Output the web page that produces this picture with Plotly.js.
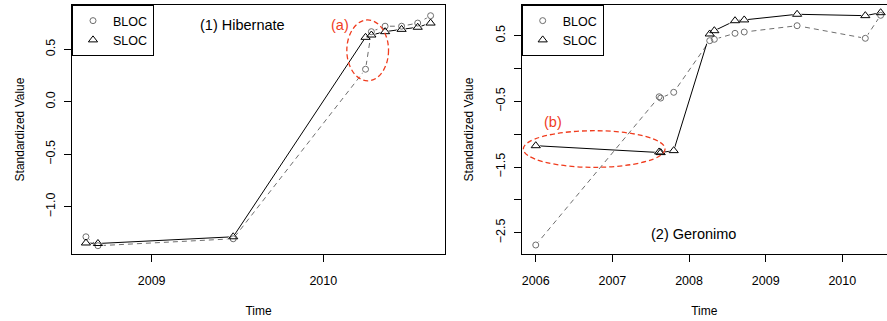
<!DOCTYPE html>
<html>
<head>
<meta charset="utf-8">
<script src="https://cdn.plot.ly/plotly-3.0.1.min.js"></script>
<style>html,body{margin:0;padding:0;background:#fff;}#chart{width:887px;height:321px;}</style>
</head>
<body>
<div id="chart"></div>
<script>
// (1) Hibernate
const hibTime = [2008.617, 2008.687, 2009.475, 2010.246, 2010.28, 2010.36, 2010.456, 2010.55, 2010.625];
const hibBLOC = [-1.286, -1.371, -1.305, 0.31, 0.668, 0.72, 0.72, 0.75, 0.82];
const hibSLOC = [-1.345, -1.35, -1.286, 0.614, 0.636, 0.668, 0.69, 0.71, 0.75];

// (2) Geronimo
const geroTime = [2006.0, 2007.61, 2007.63, 2007.8, 2008.27, 2008.33, 2008.6, 2008.72, 2009.41, 2010.3, 2010.5];
const geroBLOC = [-2.687, -0.43, -0.45, -0.362, 0.424, 0.445, 0.536, 0.556, 0.652, 0.46, 0.81];
const geroSLOC = [-1.175, -1.27, -1.28, -1.25, 0.526, 0.576, 0.728, 0.74, 0.826, 0.805, 0.85];

const seriesNames = ['BLOC', 'SLOC'];
const leftTicksY = [-1.0, -0.5, 0.0, 0.5];
const leftTickText = ['\u22121.0', '\u22120.5', '0.0', '0.5'];
const rightTicksY = [-2.5, -2.0, -1.5, -1.0, -0.5, 0.0, 0.5];
const rightTickText = ['\u22122.5', '', '\u22121.5', '', '\u22120.5', '', '0.5'];
const leftTicksX = [2009, 2010];
const rightTicksX = [2006, 2007, 2008, 2009, 2010];

const FONT = 'Liberation Sans, Arial, Helvetica, sans-serif';
const GRAY = '#6e6e6e';

function panel(t, b, s, xa, ya, leg) {
  return [
    {x: t, y: b, xaxis: xa, yaxis: ya, mode: 'lines', showlegend: false, hoverinfo: 'skip',
     line: {color: GRAY, width: 1, dash: '5px,4px'}},
    {x: t, y: s, xaxis: xa, yaxis: ya, mode: 'lines', showlegend: false, hoverinfo: 'skip',
     line: {color: '#000', width: 1}},
    {x: t, y: b, xaxis: xa, yaxis: ya, mode: 'markers', showlegend: false, hoverinfo: 'skip',
     marker: {symbol: 'circle', size: 9, color: '#fff', line: {width: 0}}},
    {x: t, y: s, xaxis: xa, yaxis: ya, mode: 'markers', showlegend: false, hoverinfo: 'skip',
     marker: {symbol: 'triangle-up', size: 11, color: '#fff', line: {width: 0}}},
    {x: t, y: b, xaxis: xa, yaxis: ya, mode: 'markers', name: seriesNames[0], legend: leg,
     marker: {symbol: 'circle-open', size: 6, color: GRAY, line: {width: 1}}},
    {x: t, y: s, xaxis: xa, yaxis: ya, mode: 'markers', name: seriesNames[1], legend: leg,
     marker: {symbol: 'triangle-up-open', size: 8, color: '#000', line: {width: 1}}}
  ];
}

const data = panel(hibTime, hibBLOC, hibSLOC, 'x', 'y', 'legend')
  .concat(panel(geroTime, geroBLOC, geroSLOC, 'x2', 'y2', 'legend2'));

const axisBase = {
  showgrid: false, zeroline: false, showline: true, linecolor: '#000', linewidth: 1,
  ticks: 'outside', ticklen: 7, tickwidth: 1, tickcolor: '#000',
  tickfont: {family: FONT, size: 12.5, color: '#000'}
};
const yd = [0.2087, 0.9844];

const layout = {
  width: 887, height: 321,
  margin: {l: 0, r: 0, t: 0, b: 0},
  paper_bgcolor: '#fff', plot_bgcolor: '#fff',
  font: {family: FONT, color: '#000'},
  showlegend: true,
  xaxis: Object.assign({}, axisBase, {domain: [0.0812, 0.5017], range: [2008.536, 2010.709],
    tickvals: leftTicksX, ticktext: leftTicksX.map(String), mirror: true, anchor: 'y', ticklabelstandoff: 8,
    title: {text: 'Time', font: {family: FONT, size: 12, color: '#000'}, standoff: 19}}),
  yaxis: Object.assign({}, axisBase, {domain: yd, range: [-1.45, 0.922],
    tickvals: leftTicksY, ticktext: leftTickText, tickangle: -90, mirror: true, anchor: 'x', ticklabelstandoff: 4,
    title: {text: 'Standardized Value', font: {family: FONT, size: 12, color: '#000'}, standoff: 16}}),
  xaxis2: Object.assign({}, axisBase, {domain: [0.5882, 1], range: [2005.817, 2010.583],
    tickvals: rightTicksX, ticktext: rightTicksX.map(String), mirror: true, anchor: 'y2', ticklabelstandoff: 8,
    title: {text: 'Time', font: {family: FONT, size: 12, color: '#000'}, standoff: 19}}),
  yaxis2: Object.assign({}, axisBase, {domain: yd, range: [-2.824, 0.967],
    tickvals: rightTicksY, ticktext: rightTickText, tickangle: -90, mirror: false, anchor: 'x2', ticklabelstandoff: 4,
    title: {text: 'Standardized Value', font: {family: FONT, size: 12, color: '#000'}, standoff: 17}}),
  legend: {x: 72/887, y: 316/321, xanchor: 'left', yanchor: 'top', bgcolor: '#fff',
    bordercolor: '#000', borderwidth: 1, font: {family: FONT, size: 12.5, color: '#000'},
    itemwidth: 30, tracegroupgap: 0},
  legend2: {x: 521.7/887, y: 316/321, xanchor: 'left', yanchor: 'top', bgcolor: '#fff',
    bordercolor: '#000', borderwidth: 1, font: {family: FONT, size: 12.5, color: '#000'},
    itemwidth: 30, tracegroupgap: 0},
  shapes: [
    {type: 'circle', xref: 'x', yref: 'y', x0: 2010.137, x1: 2010.38, y0: 0.2, y1: 0.78,
     line: {color: '#f03c1e', width: 1.3, dash: '5px,3px'}},
    {type: 'circle', xref: 'x2', yref: 'y2', x0: 2005.838, x1: 2007.687, y0: -1.504, y1: -0.947,
     line: {color: '#f03c1e', width: 1.3, dash: '5px,3px'}}
  ],
  annotations: [
    {xref: 'x', yref: 'y', x: 2009.53, y: 0.731, text: '(1) Hibernate', showarrow: false,
     font: {family: FONT, size: 14.5, color: '#000'}},
    {xref: 'x', yref: 'y', x: 2010.097, y: 0.731, text: '(a)', showarrow: false,
     font: {family: FONT, size: 14.5, color: '#f03c1e'}},
    {xref: 'x2', yref: 'y2', x: 2008.056, y: -2.52, text: '(2) Geronimo', showarrow: false,
     font: {family: FONT, size: 14.5, color: '#000'}},
    {xref: 'x2', yref: 'y2', x: 2006.23, y: -0.81, text: '(b)', showarrow: false,
     font: {family: FONT, size: 14.5, color: '#f03c1e'}}
  ]
};

Plotly.newPlot('chart', data, layout, {displayModeBar: false, staticPlot: true});
</script>
</body>
</html>
